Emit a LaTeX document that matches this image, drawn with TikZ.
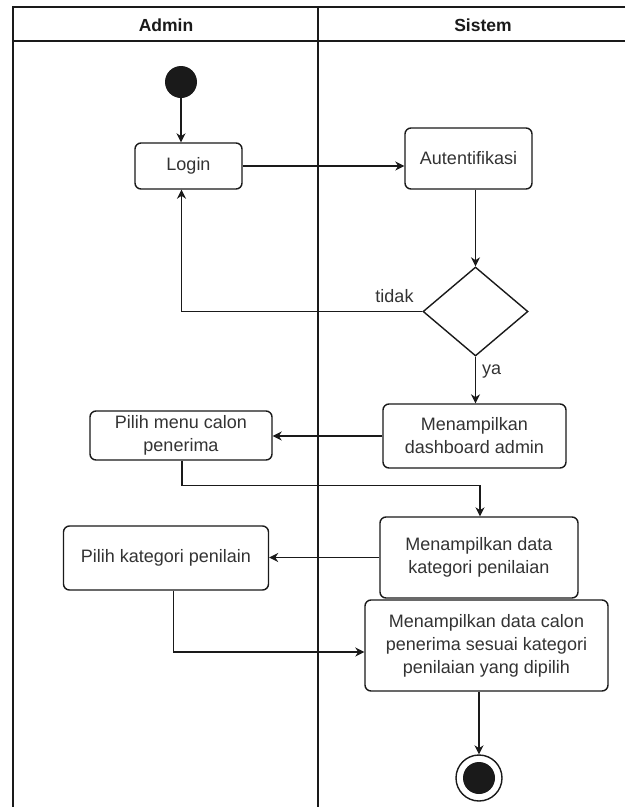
\documentclass[tikz,border=0pt]{standalone}
\usepackage{fontspec}
\setmainfont{Liberation Sans}
\usetikzlibrary{arrows.meta,shapes.geometric}
\definecolor{ink}{HTML}{1A1A1A}
\definecolor{txt}{HTML}{333333}
\tikzset{
  lane/.style={draw=ink, line width=1.4pt},
  act/.style={draw=ink, line width=1.4pt, rounded corners=6pt, fill=white,
    text=txt, font=\fontsize{18}{23}\selectfont, align=center, inner sep=0pt},
  decision/.style={draw=ink, line width=1.4pt, diamond, fill=white, inner sep=0pt},
  flow/.style={draw=ink, line width=1.4pt, -{Stealth[length=9pt,width=9pt]}},
  lbl/.style={text=txt, font=\fontsize{18}{23}\selectfont, inner sep=0pt},
  head/.style={text=ink, font=\bfseries\fontsize{17.5}{21}\selectfont, inner sep=0pt},
}
\begin{document}
\begin{tikzpicture}[x=1pt, y=-1pt]
  \useasboundingbox (0,0) rectangle (625,807);
  \fill[white] (0,0) rectangle (625,807);

  % swimlane frame
  \draw[lane] (625,7) -- (13,7) -- (13,807);
  \draw[lane] (13,41) -- (625,41);
  \draw[lane] (318,7) -- (318,807);
  \node[head] (hadmin) at (166,25) {Admin};
  \node[head] (hsistem) at (483,25) {Sistem};

  % nodes
  \node[circle, fill=ink, minimum size=32pt, inner sep=0pt] (start) at (181,82) {};
  \node[act, minimum width=107pt, minimum height=46pt] (login) at (188.5,166) {Login};
  \node[act, minimum width=127pt, minimum height=61pt] (auth) at (468.5,158.5) {Autentifikasi};
  \node[decision, minimum width=105pt, minimum height=89pt] (dec) at (475.5,311.5) {};
  \node[act, minimum width=183pt, minimum height=64pt] (dash) at (474.5,436) {Menampilkan\\dashboard admin};
  \node[act, minimum width=182pt, minimum height=49pt] (menu) at (181,435.5) {Pilih menu calon\\penerima};
  \node[act, minimum width=198pt, minimum height=81pt] (kat) at (479,557.5) {Menampilkan data\\kategori penilaian};
  \node[act, minimum width=205pt, minimum height=64pt] (pkat) at (166,558) {Pilih kategori penilain};
  \node[act, minimum width=243pt, minimum height=91pt] (show) at (486.5,645.5) {Menampilkan data calon\\penerima sesuai kategori\\penilaian yang dipilih};
  \node[circle, draw=ink, line width=1.4pt, fill=white, minimum size=46pt, inner sep=0pt] (end) at (479,778) {};
  \node[circle, fill=ink, minimum size=32pt, inner sep=0pt] (endin) at (end.center) {};

  \coordinate (colA) at (181.5,0);

  % connectors
  \draw[flow] (start.south) -- (start.south |- login.north);
  \draw[flow] (login.east) -- (login.east -| auth.west);
  \draw[flow] (dec.north |- auth.south) -- (dec.north);
  \draw[flow] (dec.west) -| (colA |- login.south);
  \node[lbl] (tidak) at (394.5,296) {tidak};
  \draw[flow] (dec.south) -- (dec.south |- dash.north);
  \node[lbl, anchor=west] (ya) at (482,372) {ya};
  \draw[flow] (dash.west) -- (dash.west -| menu.east);
  \draw[flow] ([xshift=1pt]menu.south) -- ++(0,25) -| ([xshift=1pt]kat.north);
  \draw[flow] (kat.west) -- (kat.west -| pkat.east);
  \draw[flow] ([xshift=7.5pt]pkat.south) |- ([yshift=-6.5pt]show.west);
  \draw[flow] (end.north |- show.south) -- (end.north);
\end{tikzpicture}
\end{document}
